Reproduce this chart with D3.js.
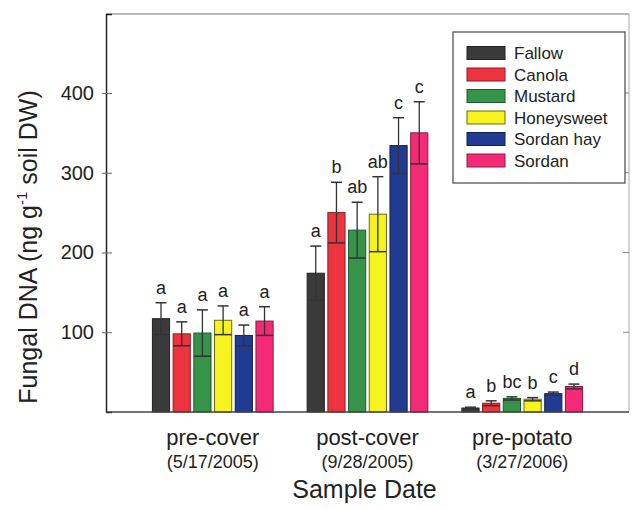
<!DOCTYPE html>
<html>
<head>
<meta charset="utf-8">
<script src="https://cdn.jsdelivr.net/npm/d3@7"></script>
<style>
  body{margin:0;background:#fff;}
  text{font-family:"Liberation Sans",Arial,sans-serif;fill:#222;}
</style>
</head>
<body>
<div id="Chart"></div>
<script>
// data
const dates = ["pre-cover","post-cover","pre-potato"]
const dateSub = ["(5/17/2005)","(9/28/2005)","(3/27/2006)"]
const treatments = ["Fallow","Canola","Mustard","Honeysweet","Sordan hay","Sordan"]
const colors = ["#3a3a3a","#ee3340","#36944a","#f7f31f","#213b92","#f42a76"]
const strokes = ["#222","#8a1f24","#1f5a2c","#6b6a12","#14224f","#8a1a45"]
const meanPre = [117,98,99,115,96,114]
const sePre = [20,15,29,18,13,18]
const meanPost = [174,250,228,248,334,350]
const sePost = [34,38,35,47,35,39]
const meanPotato = [5,11,17,16,23,32]
const sePotato = [1,3,2,2,2,3]
const lettersPre = ["a","a","a","a","a","a"]
const lettersPost = ["a","b","ab","ab","c","c"]
const lettersPotato = ["a","b","bc","b","c","d"]
const yTicks = [100,200,300,400]

const means=[meanPre,meanPost,meanPotato]
const ses=[sePre,sePost,sePotato]
const letters=[lettersPre,lettersPost,lettersPotato]
var rows=[]
dates.forEach((d,i)=>treatments.forEach((t,j)=>{
  rows.push({date:d,trt:t,j:j,v:means[i][j],se:ses[i][j],lab:letters[i][j]})
}))

var W=632,H=510
var m={left:106,right:629,top:14,bottom:412}
var svg=d3.select("#Chart").append("svg")
  .attr("width",W).attr("height",H)

var X=d3.scaleBand().domain(dates).range([m.left,m.right])
  .paddingInner(0.22).paddingOuter(0.3)
var X1=d3.scaleBand().domain(treatments).range([0,X.bandwidth()])
  .paddingInner(0.17)
var Y=d3.scaleLinear().domain([0,499]).range([m.bottom,m.top])

// frame
svg.append("line").attr("x1",m.left).attr("x2",m.right).attr("y1",m.top).attr("y2",m.top)
  .attr("stroke","#777").attr("stroke-width",1.2)
svg.append("line").attr("x1",m.right).attr("x2",m.right).attr("y1",m.top).attr("y2",m.bottom)
  .attr("stroke","#aaa").attr("stroke-width",1)

// left axis
var yAxis=svg.append("g").attr("transform",`translate(${m.left},0)`)
  .call(d3.axisLeft(Y).tickValues(yTicks).tickSize(-6).tickPadding(12))
yAxis.select(".domain").attr("stroke","#222").attr("stroke-width",1.5)
yAxis.selectAll(".tick line").attr("stroke","#666").attr("x1",-4)
yAxis.selectAll("text").attr("font-size",20).attr("fill","#222")
  .attr("font-family","Liberation Sans, Arial, sans-serif")

// right ticks
svg.append("g").selectAll("line").data(yTicks).enter().append("line")
  .attr("x1",m.right-6).attr("x2",m.right).attr("y1",d=>Y(d)).attr("y2",d=>Y(d))
  .attr("stroke","#888")

var groups=svg.append("g").selectAll("g").data(rows).enter().append("g")
  .attr("transform",d=>`translate(${X(d.date)+X1(d.trt)},0)`)

groups.append("rect")
  .attr("x",0).attr("y",d=>Y(d.v))
  .attr("width",X1.bandwidth()).attr("height",d=>m.bottom-Y(d.v))
  .attr("fill",d=>colors[d.j]).attr("stroke",d=>strokes[d.j]).attr("stroke-width",1)

var bw=X1.bandwidth(),cap=5.5
groups.append("line")
  .attr("x1",bw/2).attr("x2",bw/2)
  .attr("y1",d=>Y(Math.max(0,d.v-d.se))).attr("y2",d=>Y(d.v+d.se))
  .attr("stroke","#333").attr("stroke-width",1.3)
groups.append("line")
  .attr("x1",bw/2-cap).attr("x2",bw/2+cap)
  .attr("y1",d=>Y(d.v+d.se)).attr("y2",d=>Y(d.v+d.se))
  .attr("stroke","#333").attr("stroke-width",1.5)
groups.append("line")
  .attr("x1",0).attr("x2",bw)
  .attr("y1",d=>Y(Math.max(0,d.v-d.se))).attr("y2",d=>Y(Math.max(0,d.v-d.se)))
  .attr("stroke","#333").attr("stroke-width",1.5)

groups.append("text")
  .attr("x",bw/2).attr("y",d=>Y(d.v+d.se)-9)
  .attr("text-anchor","middle").attr("font-size",18)
  .text(d=>d.lab)

// bottom axis line
svg.append("line").attr("x1",m.left).attr("x2",m.right).attr("y1",m.bottom).attr("y2",m.bottom)
  .attr("stroke","#444").attr("stroke-width",1.5)

// x labels
var xl=svg.append("g")
xl.selectAll("text.d").data(dates).enter().append("text")
  .attr("x",d=>X(d)+X.bandwidth()/2).attr("y",445)
  .attr("text-anchor","middle").attr("font-size",22).text(d=>d)
xl.selectAll("text.s").data(dateSub).enter().append("text")
  .attr("x",(d,i)=>X(dates[i])+X.bandwidth()/2).attr("y",468)
  .attr("text-anchor","middle").attr("font-size",18).text(d=>d)

svg.append("text").attr("x",(m.left+m.right)/2-3).attr("y",498)
  .attr("text-anchor","middle").attr("font-size",25).text("Sample Date")

// y title
var yt=svg.append("text").attr("transform","translate(37,247)rotate(-90)")
  .attr("text-anchor","middle").attr("font-size",25)
yt.append("tspan").text("Fungal DNA (ng g")
yt.append("tspan").attr("font-size",15).attr("dy",-10).text("-1")
yt.append("tspan").attr("dy",10).text(" soil DW)")

// legend
var lg=svg.append("g")
lg.append("rect").attr("x",453).attr("y",32).attr("width",172).attr("height",151)
  .attr("fill","#fff").attr("stroke","#555").attr("stroke-width",1.3)
var li=lg.selectAll("g").data(treatments).enter().append("g")
  .attr("transform",(d,i)=>`translate(467,${53+i*21.5})`)
li.append("rect").attr("x",0).attr("y",-6.5).attr("width",38).attr("height",13)
  .attr("fill",(d,i)=>colors[i]).attr("stroke",(d,i)=>strokes[i])
li.append("text").attr("x",47).attr("y",6).attr("font-size",17).text(d=>d)
</script>
</body>
</html>
